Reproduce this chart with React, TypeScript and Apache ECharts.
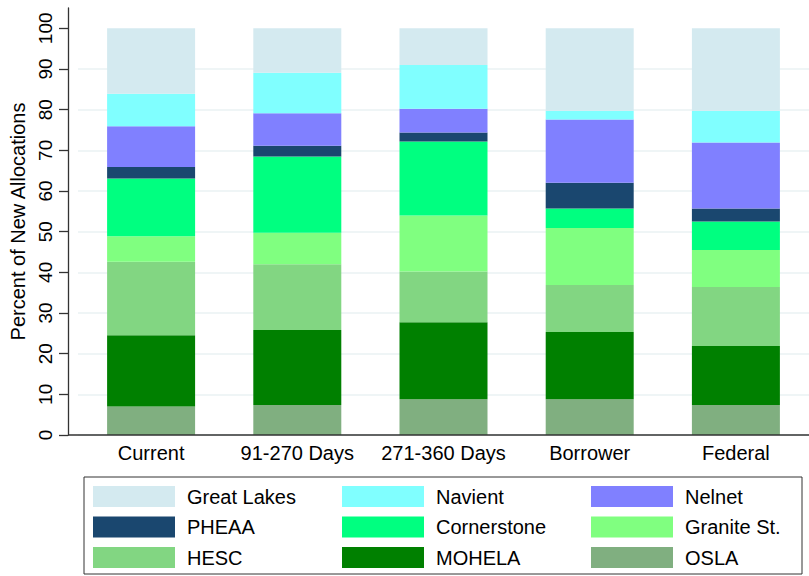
import React, { useEffect, useRef } from "react";
import * as echarts from "echarts";

const categories = ["Current", "91-270 Days", "271-360 Days", "Borrower", "Federal"];

// stacked bottom to top
const osla = [7.0, 7.4, 8.8, 8.8, 7.4];
const mohela = [17.5, 18.4, 18.9, 16.5, 14.5];
const hesc = [18.1, 16.2, 12.5, 11.6, 14.5];
const graniteSt = [6.3, 7.75, 13.8, 14.0, 9.1];
const cornerstone = [14.2, 18.75, 18.2, 4.8, 7.0];
const pheaa = [2.8, 2.6, 2.2, 6.3, 3.2];
const nelnet = [10.0, 8.0, 5.8, 15.6, 16.2];
const navient = [8.0, 10.0, 10.8, 2.15, 7.85];
const greatLakes = [16.1, 10.9, 9.0, 20.25, 20.25];

const yTicks = [0, 10, 20, 30, 40, 50, 60, 70, 80, 90, 100];

const seriesDefs = [
  { name: "OSLA", data: osla, color: "#80af80" },
  { name: "MOHELA", data: mohela, color: "#008000" },
  { name: "HESC", data: hesc, color: "#82d682" },
  { name: "Granite St.", data: graniteSt, color: "#80ff80" },
  { name: "Cornerstone", data: cornerstone, color: "#00ff80" },
  { name: "PHEAA", data: pheaa, color: "#1a476f" },
  { name: "Nelnet", data: nelnet, color: "#8080ff" },
  { name: "Navient", data: navient, color: "#80ffff" },
  { name: "Great Lakes", data: greatLakes, color: "#d4eaf0" },
];

const legendCols = [
  ["Great Lakes", "PHEAA", "HESC"],
  ["Navient", "Cornerstone", "MOHELA"],
  ["Nelnet", "Granite St.", "OSLA"],
];

const FONT = "'Liberation Sans', Arial, Helvetica, sans-serif";

export default function App() {
  const ref = useRef<HTMLDivElement>(null);
  useEffect(() => {
    if (!ref.current) return;
    const chart = echarts.init(ref.current, null, { renderer: "svg" });
    const legendLefts = [93, 342, 591];
    chart.setOption({
      animation: false,
      backgroundColor: "#ffffff",
      textStyle: { fontFamily: FONT },
      grid: { left: 78, right: 0, top: 8, bottom: 141 },
      xAxis: {
        type: "category",
        data: categories,
        axisLine: { show: false },
        axisTick: { show: false },
        axisLabel: { color: "#000", fontSize: 20, fontFamily: FONT, margin: 8, interval: 0 },
      },
      yAxis: {
        type: "value",
        min: 0,
        max: 105,
        interval: 10,
        offset: 10,
        name: "Percent of New Allocations",
        nameLocation: "middle",
        nameGap: 31,
        nameTextStyle: { color: "#000", fontSize: 20, fontFamily: FONT },
        axisLine: { show: true, lineStyle: { color: "#333", width: 1.3 } },
        axisTick: { show: true, length: 9, customValues: yTicks, lineStyle: { color: "#333", width: 1.3 } },
        axisLabel: {
          customValues: yTicks,
          rotate: 90,
          color: "#000",
          fontSize: 19,
          fontFamily: FONT,
          margin: 13,
        },
        splitLine: { show: true, showMaxLine: false, lineStyle: { color: "#eaf2f3", width: 1.5 } },
      },
      legend: legendCols.map((col, i) => ({
        orient: "vertical",
        left: legendLefts[i],
        top: 486,
        width: 240,
        height: 100,
        padding: 0,
        data: col,
        icon: "rect",
        itemWidth: 82,
        itemHeight: 21,
        itemGap: 9.5,
        selectedMode: false,
        textStyle: { color: "#000", fontSize: 20, fontFamily: FONT, lineHeight: 21, padding: [0, 0, 0, 7] },
      })),
      graphic: [
        {
          type: "line",
          shape: { x1: 68, y1: 435, x2: 809, y2: 435 },
          style: { stroke: "#333", lineWidth: 1.3 },
          z: 10,
        },
        {
          type: "rect",
          shape: { x: 84, y: 477, width: 718, height: 97 },
          style: { fill: "none", stroke: "#333", lineWidth: 1 },
        },
      ],
      series: seriesDefs.map((s) => ({
        type: "bar",
        name: s.name,
        stack: "total",
        data: s.data,
        barWidth: 88,
        itemStyle: { color: s.color },
      })),
    });
    return () => chart.dispose();
  }, []);
  return (
    <div
      ref={ref}
      style={{ position: "absolute", left: 0, top: 0, width: 809, height: 576 }}
    />
  );
}
